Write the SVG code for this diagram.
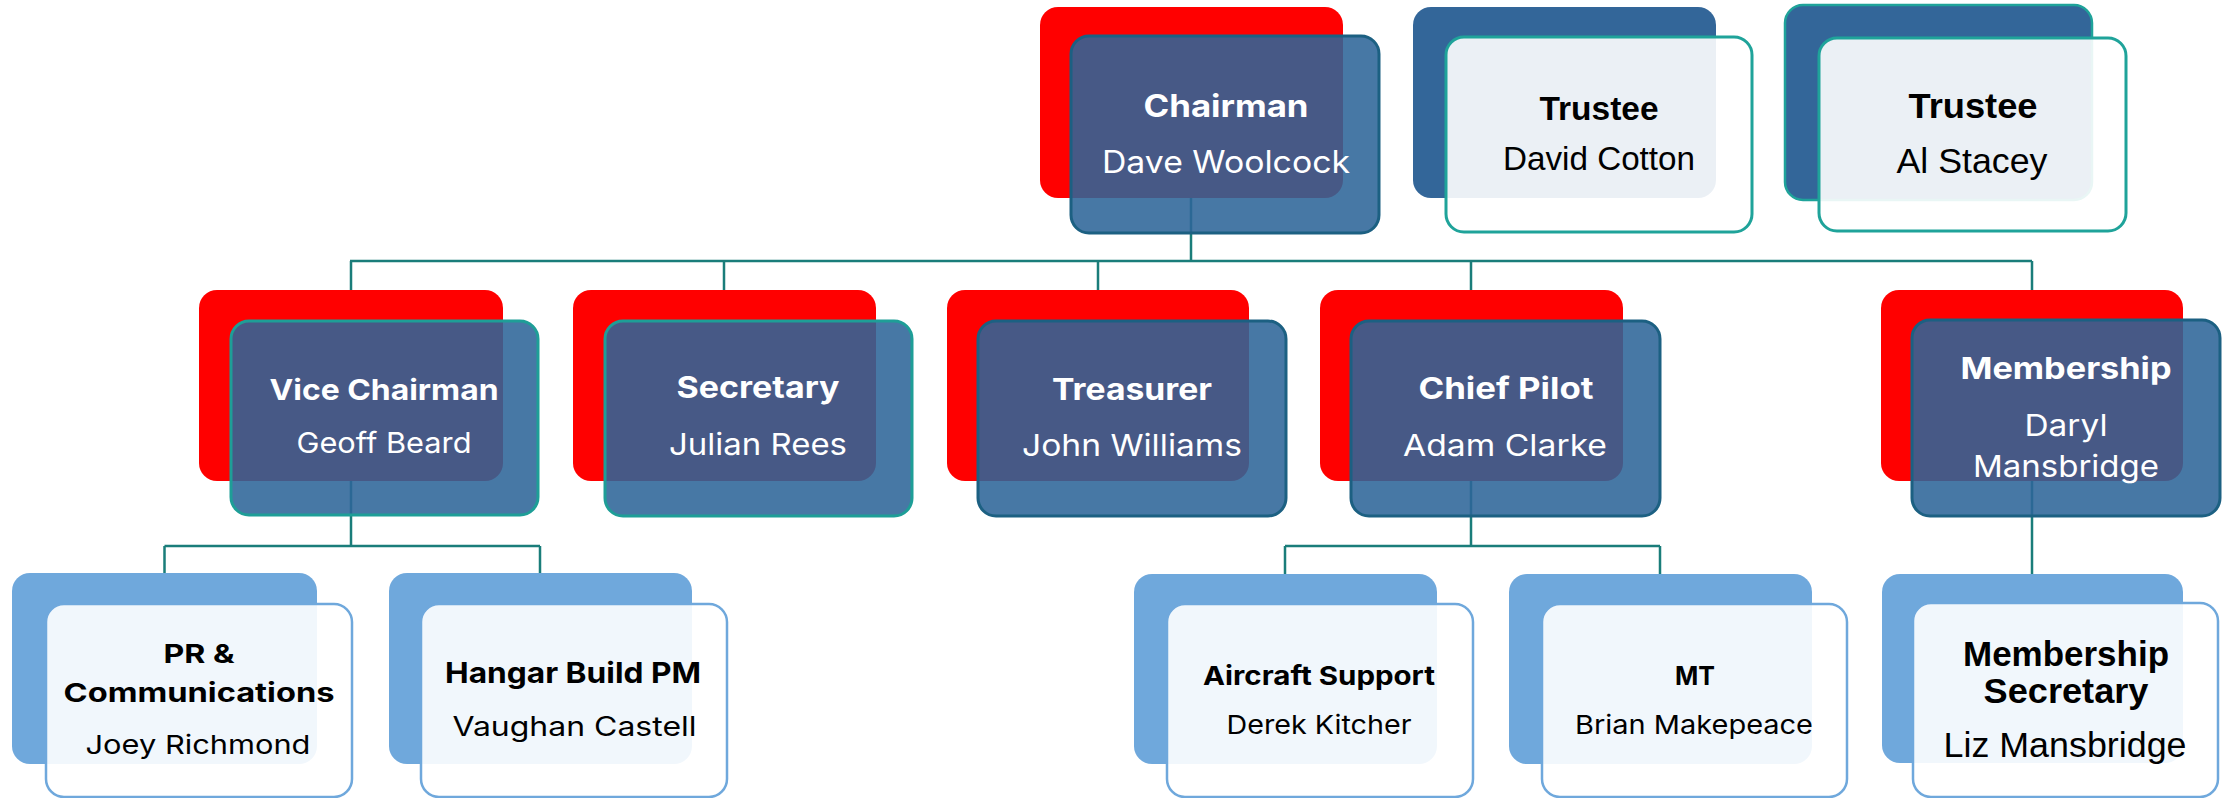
<svg xmlns="http://www.w3.org/2000/svg" width="2234" height="798" viewBox="0 0 2234 798">
<style>
.bg{fill:#FFFFFF}
.red{fill:#FF0000}
.l2f{fill:rgb(46,101,153);fill-opacity:0.88;stroke-width:3}
.dk{stroke:#1C6082}
.tl{stroke:#1E9E97}
.tb{fill:#336699}
.tf{fill:#FFFFFF;fill-opacity:0.9;stroke:#1FA39A;stroke-width:3}
.l3b{fill:#6FA8DC}
.l3f{fill:#FFFFFF;fill-opacity:0.9;stroke:#6FA8DC;stroke-width:2.5}
.w{fill:#FFFFFF;font-family:Inter,"Noto Sans",sans-serif;text-anchor:middle}
.wb{font-weight:700}
.a{fill:#000000;font-family:"Liberation Sans",Arial,sans-serif;text-anchor:middle}
.ab{font-weight:700}
.n{fill:#000000;font-family:Inter,"Noto Sans",sans-serif;text-anchor:middle}
.nb{font-weight:700}
.c{fill:none;stroke:#1A7D7A;stroke-width:2.5}
</style>
<rect class="bg" x="0" y="0" width="2234" height="798"/>
<g id="connectors">
<path class="c" d="M1191 198V261M350 261H2032M351 261V290M724 261V290M1098 261V290M1471 261V290M2032 261V290"/>
<path class="c" d="M351 481V546M164.5 546H540M164.5 546V573M540 546V573"/>
<path class="c" d="M1471 481V546M1285 546H1660M1285 546V574M1660 546V574"/>
<path class="c" d="M2032 481V574"/>
</g>
<g id="chairman">
<rect class="red" x="1040" y="7" width="303" height="191" rx="18"/>
<rect class="l2f dk" x="1071" y="36" width="308" height="197" rx="18"/>
<text class="w wb" x="1226" y="117" font-size="31" textLength="165" lengthAdjust="spacingAndGlyphs">Chairman</text>
<text class="w" x="1226" y="173" font-size="31" textLength="248" lengthAdjust="spacingAndGlyphs">Dave Woolcock</text>
</g>
<g id="trustee-cotton">
<rect class="tb" x="1413" y="7" width="303" height="191" rx="18"/>
<rect class="tf" x="1446" y="37" width="306" height="195" rx="18"/>
<text class="a ab" x="1599" y="120" font-size="33" textLength="119" lengthAdjust="spacingAndGlyphs">Trustee</text>
<text class="a" x="1599" y="170" font-size="33" textLength="192" lengthAdjust="spacingAndGlyphs">David Cotton</text>
</g>
<g id="trustee-stacey">
<rect class="tb" x="1785" y="5" width="307" height="195" rx="18" stroke="#1FA39A" stroke-width="2.5"/>
<rect class="tf" x="1819" y="38" width="307" height="193" rx="18"/>
<text class="a ab" x="1973" y="118" font-size="35" textLength="129" lengthAdjust="spacingAndGlyphs">Trustee</text>
<text class="a" x="1972" y="173" font-size="35" textLength="151" lengthAdjust="spacingAndGlyphs">Al Stacey</text>
</g>
<g id="vice-chairman">
<rect class="red" x="199" y="290" width="304" height="191" rx="18"/>
<rect class="l2f tl" x="231" y="321" width="307" height="194" rx="18"/>
<text class="w wb" x="384" y="400" font-size="29" textLength="229" lengthAdjust="spacingAndGlyphs">Vice Chairman</text>
<text class="w" x="384" y="453" font-size="29" textLength="175" lengthAdjust="spacingAndGlyphs">Geoff Beard</text>
</g>
<g id="secretary">
<rect class="red" x="573" y="290" width="303" height="191" rx="18"/>
<rect class="l2f tl" x="605" y="321" width="307" height="195" rx="18"/>
<text class="w wb" x="758" y="398" font-size="30" textLength="163" lengthAdjust="spacingAndGlyphs">Secretary</text>
<text class="w" x="758" y="455" font-size="30" textLength="178" lengthAdjust="spacingAndGlyphs">Julian Rees</text>
</g>
<g id="treasurer">
<rect class="red" x="947" y="290" width="302" height="191" rx="18"/>
<rect class="l2f dk" x="978" y="321" width="308" height="195" rx="18"/>
<text class="w wb" x="1132" y="400" font-size="30" textLength="160" lengthAdjust="spacingAndGlyphs">Treasurer</text>
<text class="w" x="1132" y="456" font-size="30" textLength="220" lengthAdjust="spacingAndGlyphs">John Williams</text>
</g>
<g id="chief-pilot">
<rect class="red" x="1320" y="290" width="303" height="191" rx="18"/>
<rect class="l2f dk" x="1351" y="321" width="309" height="195" rx="18"/>
<text class="w wb" x="1506" y="399" font-size="30" textLength="175" lengthAdjust="spacingAndGlyphs">Chief Pilot</text>
<text class="w" x="1505" y="456" font-size="30" textLength="204" lengthAdjust="spacingAndGlyphs">Adam Clarke</text>
</g>
<g id="membership">
<rect class="red" x="1881" y="290" width="302" height="191" rx="18"/>
<rect class="l2f dk" x="1912" y="320" width="308" height="196" rx="18"/>
<text class="w wb" x="2066" y="379" font-size="30" textLength="211" lengthAdjust="spacingAndGlyphs">Membership</text>
<text class="w" x="2066" y="436" font-size="30" textLength="83" lengthAdjust="spacingAndGlyphs">Daryl</text>
<text class="w" x="2066" y="477" font-size="30" textLength="186" lengthAdjust="spacingAndGlyphs">Mansbridge</text>
</g>
<g id="pr-communications">
<rect class="l3b" x="12" y="573" width="305" height="191" rx="18"/>
<rect class="l3f" x="46" y="604" width="306" height="193" rx="18"/>
<text class="n nb" x="199" y="663" font-size="26" textLength="71" lengthAdjust="spacingAndGlyphs">PR &amp;</text>
<text class="n nb" x="199" y="702" font-size="26" textLength="271" lengthAdjust="spacingAndGlyphs">Communications</text>
<text class="n" x="198" y="754" font-size="26" textLength="225" lengthAdjust="spacingAndGlyphs">Joey Richmond</text>
</g>
<g id="hangar-build">
<rect class="l3b" x="389" y="573" width="303" height="191" rx="18"/>
<rect class="l3f" x="421" y="604" width="306" height="193" rx="18"/>
<text class="n nb" x="573" y="683" font-size="29" textLength="256" lengthAdjust="spacingAndGlyphs">Hangar Build PM</text>
<text class="n" x="574.5" y="736" font-size="27" textLength="244" lengthAdjust="spacingAndGlyphs">Vaughan Castell</text>
</g>
<g id="aircraft-support">
<rect class="l3b" x="1134" y="574" width="303" height="190" rx="18"/>
<rect class="l3f" x="1167" y="604" width="306" height="193" rx="18"/>
<text class="n nb" x="1319" y="685" font-size="26" textLength="232" lengthAdjust="spacingAndGlyphs">Aircraft Support</text>
<text class="n" x="1319" y="734" font-size="26" textLength="185" lengthAdjust="spacingAndGlyphs">Derek Kitcher</text>
</g>
<g id="mt">
<rect class="l3b" x="1509" y="574" width="303" height="190" rx="18"/>
<rect class="l3f" x="1542" y="604" width="305" height="193" rx="18"/>
<text class="n nb" x="1695" y="685" font-size="26" textLength="40" lengthAdjust="spacingAndGlyphs">MT</text>
<text class="n" x="1694" y="734" font-size="26" textLength="238" lengthAdjust="spacingAndGlyphs">Brian Makepeace</text>
</g>
<g id="membership-secretary">
<rect class="l3b" x="1882" y="574" width="301" height="189" rx="18"/>
<rect class="l3f" x="1913" y="603" width="305" height="194" rx="18"/>
<text class="a ab" x="2066" y="666" font-size="35" textLength="206" lengthAdjust="spacingAndGlyphs">Membership</text>
<text class="a ab" x="2066" y="703" font-size="35" textLength="165" lengthAdjust="spacingAndGlyphs">Secretary</text>
<text class="a" x="2065" y="757" font-size="35" textLength="243" lengthAdjust="spacingAndGlyphs">Liz Mansbridge</text>
</g>
</svg>
